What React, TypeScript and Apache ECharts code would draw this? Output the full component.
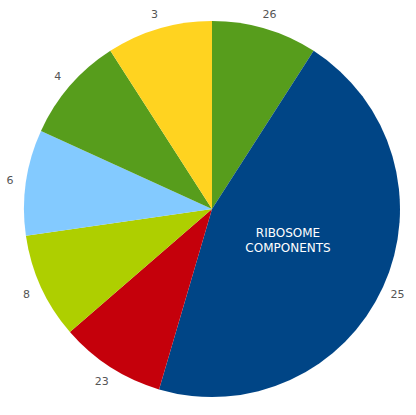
import React, { useEffect, useRef } from "react";
import * as echarts from "echarts";

const categories = ["26", "25", "23", "8", "6", "4", "3"];
const values = [1, 5, 1, 1, 1, 1, 1];
const colors = ["#579d1c", "#004586", "#c5000b", "#aecf00", "#83caff", "#579d1c", "#ffd320"];
const centerText = "RIBOSOME\nCOMPONENTS";

export default function App() {
  const ref = useRef<HTMLDivElement>(null);
  useEffect(() => {
    document.body.style.margin = "0";
    const chart = echarts.init(ref.current!, null, { renderer: "svg" });
    const data = categories.map((c, i) => ({
      name: c,
      value: values[i],
      itemStyle: { color: colors[i] },
    }));
    chart.setOption({
      animation: false,
      backgroundColor: "#ffffff",
      series: [
        {
          type: "pie",
          center: [212, 209],
          radius: [0, 188],
          startAngle: 90,
          clockwise: true,
          data,
          label: { show: false },
          labelLine: { show: false },
          itemStyle: { borderWidth: 0 },
          silent: true,
        },
        {
          type: "pie",
          center: [212, 210],
          radius: [186, 216],
          startAngle: 90,
          clockwise: true,
          data: data.map((d) => ({ ...d, itemStyle: { color: "rgba(0,0,0,0)" } })),
          label: {
            show: true,
            position: "inside",
            formatter: "{b}",
            color: "#555555",
            fontSize: 11,
            fontFamily: "DejaVu Sans",
          },
          labelLine: { show: false },
          silent: true,
        },
      ],
      graphic: [
        {
          type: "text",
          x: 288,
          y: 240,
          z: 100,
          style: {
            text: centerText,
            fill: "#ffffff",
            fontSize: 12,
            fontFamily: "DejaVu Sans",
            textAlign: "center",
            textVerticalAlign: "middle",
            lineHeight: 15,
          },
        },
      ],
    });
    return () => chart.dispose();
  }, []);
  return <div ref={ref} style={{ width: 416, height: 415 }} />;
}
